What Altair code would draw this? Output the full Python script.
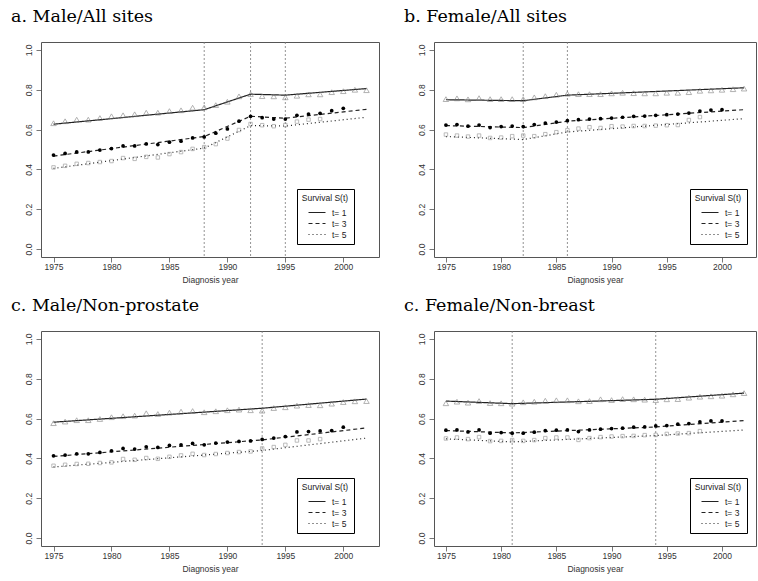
import altair as alt
import pandas as pd

years = list(range(1975, 2003))
series_names = ["t= 1", "t= 3", "t= 5"]
x_ticks = [1975, 1980, 1985, 1990, 1995, 2000]
y_ticks = [0.0, 0.2, 0.4, 0.6, 0.8, 1.0]

titles = ["a.  Male/All sites", "b.  Female/All sites",
          "c.  Male/Non-prostate", "c.  Female/Non-breast"]

# ---- a. Male / All sites
a_t1 = [0.632, 0.642, 0.650, 0.650, 0.658, 0.667, 0.672, 0.677, 0.685, 0.685, 0.693, 0.697, 0.710, 0.712,
        0.723, 0.740, 0.767, 0.778, 0.768, 0.767, 0.762, 0.770, 0.777, 0.777, 0.788, 0.793, 0.800, 0.798]
a_t3 = [0.472, 0.480, 0.488, 0.488, 0.497, 0.505, 0.518, 0.518, 0.528, 0.525, 0.537, 0.542, 0.558, 0.563,
        0.582, 0.603, 0.642, 0.667, 0.660, 0.653, 0.653, 0.672, 0.678, 0.682, 0.695, 0.707]
a_t5 = [0.410, 0.418, 0.428, 0.432, 0.437, 0.442, 0.457, 0.453, 0.463, 0.460, 0.477, 0.487, 0.503, 0.512,
        0.527, 0.555, 0.598, 0.628, 0.622, 0.617, 0.623, 0.640, 0.650, 0.653]
a_fit_x = [1975, 1988, 1992, 1995, 2002]
a_fit1 = [0.627, 0.700, 0.778, 0.773, 0.806]
a_fit3 = [0.467, 0.565, 0.667, 0.657, 0.702]
a_fit5 = [0.405, 0.507, 0.620, 0.618, 0.662]
a_joins = [1988, 1992, 1995]

# ---- b. Female / All sites
b_t1 = [0.753, 0.757, 0.752, 0.758, 0.753, 0.753, 0.753, 0.753, 0.762, 0.768, 0.775, 0.780, 0.778, 0.778,
        0.778, 0.782, 0.785, 0.783, 0.782, 0.782, 0.785, 0.785, 0.788, 0.795, 0.797, 0.800, 0.803, 0.806]
b_t3 = [0.623, 0.625, 0.617, 0.623, 0.610, 0.615, 0.618, 0.615, 0.625, 0.633, 0.638, 0.645, 0.650, 0.653,
        0.655, 0.658, 0.662, 0.667, 0.668, 0.672, 0.675, 0.678, 0.683, 0.693, 0.698, 0.700]
b_t5 = [0.575, 0.570, 0.565, 0.570, 0.558, 0.560, 0.567, 0.570, 0.567, 0.577, 0.587, 0.597, 0.605, 0.612,
        0.608, 0.617, 0.615, 0.618, 0.618, 0.620, 0.622, 0.623, 0.648, 0.663]
b_fit_x = [1975, 1982, 1986, 2002]
b_fit1 = [0.750, 0.745, 0.773, 0.810]
b_fit3 = [0.620, 0.610, 0.642, 0.700]
b_fit5 = [0.565, 0.550, 0.588, 0.655]
b_joins = [1982, 1986]

# ---- c. Male / Non-prostate
c_t1 = [0.577, 0.585, 0.592, 0.592, 0.598, 0.607, 0.612, 0.615, 0.627, 0.623, 0.630, 0.635, 0.638, 0.632,
        0.637, 0.642, 0.645, 0.642, 0.640, 0.653, 0.657, 0.665, 0.668, 0.667, 0.675, 0.683, 0.687, 0.688]
c_t3 = [0.413, 0.417, 0.423, 0.423, 0.430, 0.438, 0.450, 0.447, 0.458, 0.455, 0.465, 0.468, 0.475, 0.468,
        0.477, 0.482, 0.485, 0.488, 0.495, 0.502, 0.510, 0.533, 0.535, 0.538, 0.540, 0.557]
c_t5 = [0.363, 0.368, 0.372, 0.373, 0.377, 0.380, 0.397, 0.393, 0.402, 0.398, 0.408, 0.415, 0.423, 0.417,
        0.422, 0.427, 0.432, 0.435, 0.450, 0.457, 0.468, 0.490, 0.490, 0.497]
c_fit_x = [1975, 1993, 2002]
c_fit1 = [0.582, 0.652, 0.698]
c_fit3 = [0.410, 0.493, 0.553]
c_fit5 = [0.357, 0.440, 0.502]
c_joins = [1993]

# ---- d. Female / Non-breast
d_t1 = [0.677, 0.685, 0.680, 0.688, 0.678, 0.677, 0.675, 0.682, 0.685, 0.690, 0.692, 0.692, 0.687, 0.688,
        0.697, 0.693, 0.698, 0.697, 0.695, 0.693, 0.697, 0.698, 0.705, 0.710, 0.712, 0.715, 0.722, 0.728]
d_t3 = [0.542, 0.543, 0.533, 0.543, 0.527, 0.530, 0.527, 0.527, 0.532, 0.540, 0.542, 0.543, 0.535, 0.543,
        0.547, 0.550, 0.552, 0.557, 0.558, 0.563, 0.565, 0.572, 0.575, 0.583, 0.588, 0.588]
d_t5 = [0.500, 0.505, 0.497, 0.507, 0.487, 0.488, 0.492, 0.488, 0.492, 0.502, 0.505, 0.505, 0.493, 0.502,
        0.507, 0.510, 0.512, 0.513, 0.517, 0.518, 0.523, 0.525, 0.527, 0.537]
d_fit_x = [1975, 1981, 1994, 2002]
d_fit1 = [0.688, 0.675, 0.697, 0.728]
d_fit3 = [0.540, 0.528, 0.558, 0.590]
d_fit5 = [0.498, 0.483, 0.515, 0.543]
d_joins = [1981, 1994]

LINE = "#222222"


def panel(title, t1, t3, t5, fit_x, f1, f3, f5, joins, width):
    xs = alt.Scale(domain=[1973.92, 2003.08], nice=False, zero=False)
    ys = alt.Scale(domain=[-0.04, 1.04], nice=False, zero=False)
    xax = alt.Axis(values=x_ticks, format="d", title="Diagnosis year", labelPadding=0, titlePadding=5)
    yax = alt.Axis(values=y_ticks, format=".1f", title=None, labelAngle=270, labelAlign="center",
                   labelBaseline="bottom", labelPadding=3)
    X = alt.X("x:Q", scale=xs, axis=xax)
    Y = alt.Y("y:Q", scale=ys, axis=yax)

    fit = pd.DataFrame({
        "x": fit_x * 3,
        "y": f1 + f3 + f5,
        "s": [series_names[0]] * len(fit_x) + [series_names[1]] * len(fit_x) + [series_names[2]] * len(fit_x),
    })
    p1 = pd.DataFrame({"x": years[:len(t1)], "y": t1})
    p3 = pd.DataFrame({"x": years[:len(t3)], "y": t3})
    p5 = pd.DataFrame({"x": years[:len(t5)], "y": t5})
    jp = pd.DataFrame({"x": joins})

    rules = alt.Chart(jp).mark_rule(color="#777777", strokeWidth=0.8, strokeDash=[2, 2]).encode(x=X)
    lines = alt.Chart(fit).mark_line(color=LINE, strokeWidth=1.2).encode(
        x=X, y=Y,
        strokeDash=alt.StrokeDash(
            "s:N",
            scale=alt.Scale(domain=series_names, range=[[1, 0], [4, 3], [1, 3]]),
            legend=alt.Legend(
                title="Survival S(t)", orient="none", legendX=256, legendY=147,
                symbolType="M-1.7,0H1.7", symbolSize=100, symbolStrokeColor=LINE,
                symbolStrokeWidth=1.2, symbolFillColor="transparent", symbolOffset=7,
                labelOffset=9, rowPadding=0, titlePadding=4, padding=5,
                strokeColor="black", fillColor="white", titleAnchor="middle",
            ),
        ),
    )
    pts1 = alt.Chart(p1).mark_point(shape="triangle-up", size=30, color="#777777", strokeWidth=0.8,
                                    filled=False).encode(x=X, y=Y)
    pts3 = alt.Chart(p3).mark_point(shape="circle", size=14, color="#000000", filled=True,
                                    opacity=1).encode(x=X, y=Y)
    pts5 = alt.Chart(p5).mark_point(shape="square", size=12, color="#888888", strokeWidth=0.8,
                                    filled=False).encode(x=X, y=Y)

    return alt.layer(rules, lines, pts1, pts3, pts5).properties(
        width=width, height=215,
        title=alt.TitleParams(text=title, anchor="start", frame="group", dx=-30, font="DejaVu Serif",
                              fontSize=17.5, fontWeight="normal", color="black", baseline="alphabetic",
                              offset=2),
    )


pa = panel(titles[0], a_t1, a_t3, a_t5, a_fit_x, a_fit1, a_fit3, a_fit5, a_joins, 338)
pb = panel(titles[1], b_t1, b_t3, b_t5, b_fit_x, b_fit1, b_fit3, b_fit5, b_joins, 322)
pc = panel(titles[2], c_t1, c_t3, c_t5, c_fit_x, c_fit1, c_fit3, c_fit5, c_joins, 338)
pd_ = panel(titles[3], d_t1, d_t3, d_t5, d_fit_x, d_fit1, d_fit3, d_fit5, d_joins, 322)

row1 = alt.hconcat(pa, pb, spacing=23).resolve_scale(strokeDash="independent").resolve_legend(strokeDash="independent")
row2 = alt.hconcat(pc, pd_, spacing=23).resolve_scale(strokeDash="independent").resolve_legend(strokeDash="independent")

chart = alt.vconcat(row1, row2, spacing=11).resolve_scale(strokeDash="independent").resolve_legend(
    strokeDash="independent"
).properties(
    padding={"left": 10, "top": 7, "right": 0, "bottom": 0},
    background="white",
).configure_view(
    stroke="#555555", strokeWidth=1
).configure_axis(
    labelFont="Liberation Sans", labelFontSize=8.5, labelColor="#333333",
    titleFont="Liberation Sans", titleFontSize=8.5, titleFontWeight="normal", titleColor="#333333",
    tickColor="#555555", tickSize=5, tickWidth=0.8, domain=False, grid=False,
).configure_legend(
    titleFont="Liberation Sans", titleFontSize=8.5, titleFontWeight="normal", titleColor="#222222",
    labelFont="Liberation Sans", labelFontSize=8.5, labelColor="#222222",
)

chart.save("out.html", embed_options={"renderer": "svg", "actions": False})
